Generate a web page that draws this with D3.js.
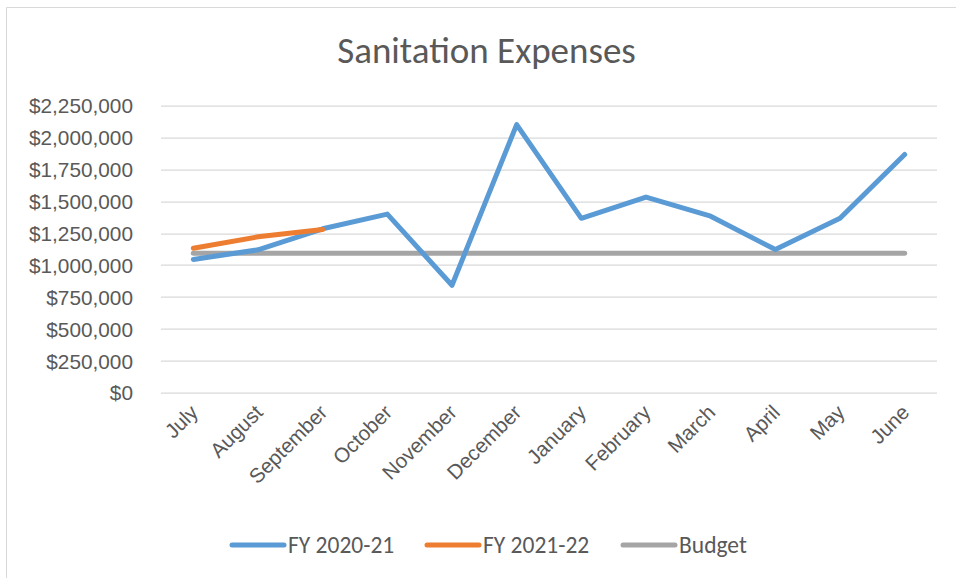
<!DOCTYPE html>
<html>
<head>
<meta charset="utf-8">
<script src="https://cdn.jsdelivr.net/npm/d3@7"></script>
<style>
  body { margin: 0; background: #fff; }
  svg { display: block; font-family: Carlito, "Open Sans", "Noto Sans", sans-serif; }
</style>
</head>
<body>
<div id="chart"></div>
<script>
// Sanitation expenses by month, fiscal year starts in July
var months = ["July", "August", "September", "October", "November", "December",
              "January", "February", "March", "April", "May", "June"];
var fy2021 = [1045000, 1120000, 1285000, 1400000, 842000, 2102000,
              1367000, 1534000, 1384000, 1122000, 1367000, 1868000];
var fy2122 = [1132000, 1222000, 1280000];
var budget = [1093000, 1093000, 1093000, 1093000, 1093000, 1093000,
              1093000, 1093000, 1093000, 1093000, 1093000, 1093000];
var yTicks = [0, 250000, 500000, 750000, 1000000, 1250000, 1500000, 1750000, 2000000, 2250000];

var seriesList = [
    {name: "FY 2020-21", values: fy2021, color: "#5B9BD5"},
    {name: "FY 2021-22", values: fy2122, color: "#ED7D31"},
    {name: "Budget", values: budget, color: "#A5A5A5"}
];

var W = 956, H = 578;
var mm = [105.7, 19, 185.3, 161]; // top right bottom left of plot area
var plotW = W - mm[1] - mm[3];
var plotH = H - mm[0] - mm[2];

var svg = d3.select("#chart").append("svg")
    .attr("width", W)
    .attr("height", H);

// chart frame
svg.append("path")
    .attr("d", "M6.5," + H + "V7.5H" + W)
    .attr("fill", "none")
    .attr("stroke", "#d9d9d9")
    .attr("stroke-width", 1);

svg.append("text")
    .attr("x", 486.5)
    .attr("y", 63)
    .attr("text-anchor", "middle")
    .attr("fill", "#595959")
    .style("font-size", "37px")
    .text("Sanitation Expenses");

var x = d3.scaleBand()
    .domain(months)
    .range([0, plotW]);
var y = d3.scaleLinear()
    .domain([0, 2250000])
    .range([plotH, 0]);

var g = svg.append("g")
    .attr("transform", "translate(" + mm[3] + "," + mm[0] + ")");

//gridlines
g.append("g").selectAll("line")
    .data(yTicks)
    .enter().append("line")
    .attr("x1", 0)
    .attr("x2", plotW)
    .attr("y1", function(d) { return Math.round(y(d)) + 0.5; })
    .attr("y2", function(d) { return Math.round(y(d)) + 0.5; })
    .attr("stroke", "#d9d9d9")
    .attr("stroke-width", 1.3);

//y axis labels
var fmt = d3.format("$,.0f");
var yAxis = d3.axisLeft(y)
    .tickValues(yTicks)
    .tickSize(0)
    .tickPadding(28)
    .tickFormat(fmt);
var ya = g.append("g").call(yAxis);
ya.select(".domain").remove();
ya.selectAll("text")
    .attr("fill", "#595959")
    .style("font-size", "20.8px")
    .attr("dy", "0.35em");

//x axis labels, rotated
var xa = g.append("g")
    .attr("transform", "translate(0," + plotH + ")")
    .call(d3.axisBottom(x).tickSize(0).tickPadding(0));
xa.select(".domain").remove();
xa.selectAll("text")
    .attr("fill", "#595959")
    .style("font-size", "20.6px")
    .attr("text-anchor", "end")
    .attr("dy", null)
    .attr("transform", "translate(6,21) rotate(-45)");

//lines
var line = d3.line()
    .x(function(d, i) { return x(months[i]) + x.bandwidth() / 2; })
    .y(function(d) { return y(d); });

var drawOrder = [seriesList[2], seriesList[0], seriesList[1]];
g.selectAll("path.series")
    .data(drawOrder)
    .enter().append("path")
    .attr("class", "series")
    .attr("d", function(d) { return line(d.values); })
    .attr("fill", "none")
    .attr("stroke", function(d) { return d.color; })
    .attr("stroke-width", 5)
    .attr("stroke-linecap", "round")
    .attr("stroke-linejoin", "round");

//legend
var legX = [232, 427, 623];
var leg = svg.append("g").selectAll("g")
    .data(seriesList)
    .enter().append("g")
    .attr("transform", function(d, i) { return "translate(" + legX[i] + ",545)"; });
leg.append("line")
    .attr("x1", 0).attr("x2", 52)
    .attr("stroke", function(d) { return d.color; })
    .attr("stroke-width", 5)
    .attr("stroke-linecap", "round");
leg.append("text")
    .attr("x", 56)
    .attr("dy", "0.35em")
    .attr("fill", "#595959")
    .style("font-size", "23.5px")
    .text(function(d) { return d.name; });
</script>
</body>
</html>
